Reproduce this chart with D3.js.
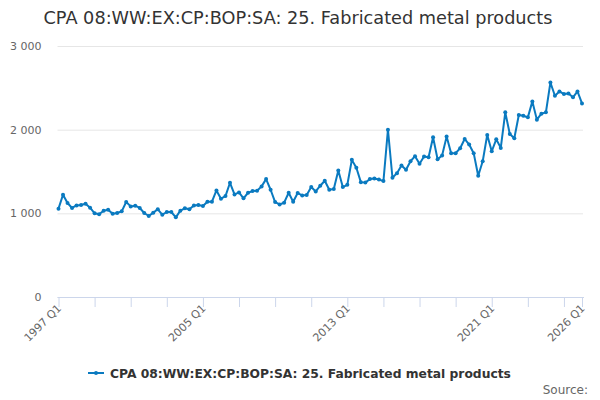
<!DOCTYPE html>
<html lang=en>
<head>
	<meta charset="utf-8">
	<title>CPA 08 fabricated metal products</title>
	<script src="https://cdn.jsdelivr.net/npm/d3@7"></script>
	<style>
		body { margin: 0; background: #fff; }
		text { font-family: "DejaVu Sans", sans-serif; }
	</style>
</head>
<body>
	<script type="text/javascript">
	var seriesName = "CPA 08:WW:EX:CP:BOP:SA: 25. Fabricated metal products";
	var firstYear = 1997;
	var values = [
		1056,1222,1123,1064, 1095,1099,1115,1067, 1000,988,1032,1044, 996,1004,1024,1135,
		1083,1091,1064,1004, 968,1008,1048,984, 1016,1016,952,1032, 1060,1048,1095,1099,
		1087,1139,1139,1274, 1175,1206,1365,1226, 1250,1179,1246,1266, 1270,1322,1409,1282,
		1135,1107,1127,1246, 1139,1242,1214,1218, 1314,1262,1330,1389, 1282,1290,1512,1314,
		1341,1639,1544,1373, 1369,1409,1417,1405, 1385,2000,1425,1480, 1572,1520,1623,1683,
		1592,1679,1671,1909, 1647,1691,1917,1719, 1719,1778,1889,1822, 1719,1449,1623,1937,
		1742,1885,1782,2207, 1949,1897,2175,2167, 2147,2338,2120,2191, 2207,2564,2405,2457,
		2425,2433,2386,2457, 2314
	];
	var quarters = values.map(function(d, i){
		return (firstYear + Math.floor(i/4)) + " Q" + (i%4 + 1);
	});
	var yTicks = [0, 1000, 2000, 3000];
	var tickQuarters = quarters.filter(function(q, i){ return i%8==0; });
	var labelQuarters = ["1997 Q1", "2005 Q1", "2013 Q1", "2021 Q1", "2026 Q1"];

	var width = 600, height = 400;
	var plotLeft = 58.5, plotRight = 582, plotTop = 46, plotBottom = 297;

	var svg = d3.select('body')
				.append('svg')
				.attr('width', width)
				.attr('height', height);

	var x = d3.scalePoint()
				.domain(quarters)
				.range([plotLeft, plotRight]);

	var y = d3.scaleLinear()
				.domain([0, 3000])
				.range([plotBottom, plotTop]);

	svg.append('text')
		.attr('x', 298)
		.attr('y', 24)
		.attr('text-anchor', 'middle')
		.style('font-size', '17.7px')
		.style('fill', '#333')
		.text(seriesName);

	// grid + y labels
	var yAxis = svg.append('g')
		.attr('transform', 'translate(' + (plotLeft - 1) + ',0)')
		.call(d3.axisLeft(y)
			.tickValues(yTicks)
			.tickSize(-(plotRight - plotLeft + 2))
			.tickPadding(16)
			.tickFormat(function(d){ return d3.format(',')(d).replace(',', ' '); }));
	yAxis.select('.domain').remove();
	yAxis.selectAll('line').attr('stroke', '#e6e6e6');
	yAxis.selectAll('text')
		.attr('font-family', null)
		.style('font-size', '11px')
		.style('fill', '#666');

	// x axis
	var xTickVals = tickQuarters.concat(["2026 Q1"]);
	var xAxis = svg.append('g')
		.attr('transform', 'translate(0,' + plotBottom + ')')
		.call(d3.axisBottom(x)
			.tickValues(xTickVals)
			.tickSize(10)
			.tickSizeOuter(0)
			.tickFormat(function(d){ return labelQuarters.indexOf(d) > -1 ? d : ""; }));
	xAxis.select('.domain').attr('stroke', '#ccd6eb').attr('d', 'M' + (plotLeft - 1) + ',0.5H' + (plotRight + 2));
	xAxis.selectAll('line').attr('stroke', '#ccd6eb');
	xAxis.selectAll('text')
		.attr('font-family', null)
		.style('font-size', '11px')
		.style('fill', '#666')
		.attr('text-anchor', 'end')
		.attr('dy', null)
		.attr('transform', 'translate(3,12) rotate(-45)')
		.attr('y', 0)
		.attr('x', 0);

	var line = d3.line()
		.x(function(d, i){ return x(quarters[i]); })
		.y(function(d){ return y(d); });

	var color = '#0a7ac0';

	svg.append('path')
		.datum(values)
		.attr('fill', 'none')
		.attr('stroke', color)
		.attr('stroke-width', 2)
		.attr('stroke-linejoin', 'round')
		.attr('d', line);

	svg.selectAll('circle.pt')
		.data(values)
		.enter()
		.append('circle')
		.attr('class', 'pt')
		.attr('cx', function(d, i){ return x(quarters[i]); })
		.attr('cy', function(d){ return y(d); })
		.attr('r', 2)
		.attr('fill', color);

	// legend
	var legend = svg.append('g').attr('transform', 'translate(88,373)');
	legend.append('line')
		.attr('x1', 0).attr('x2', 16)
		.attr('y1', 0).attr('y2', 0)
		.attr('stroke', color)
		.attr('stroke-width', 2);
	legend.append('circle')
		.attr('cx', 8).attr('cy', 0).attr('r', 2)
		.attr('fill', color);
	legend.append('text')
		.attr('x', 22)
		.attr('y', 4.5)
		.style('font-size', '12.3px')
		.style('font-weight', 'bold')
		.style('fill', '#333')
		.text(seriesName);

	svg.append('text')
		.attr('x', 588)
		.attr('y', 394)
		.attr('text-anchor', 'end')
		.style('font-size', '12px')
		.style('fill', '#666')
		.text('Source:');
	</script>
</body>
</html>
